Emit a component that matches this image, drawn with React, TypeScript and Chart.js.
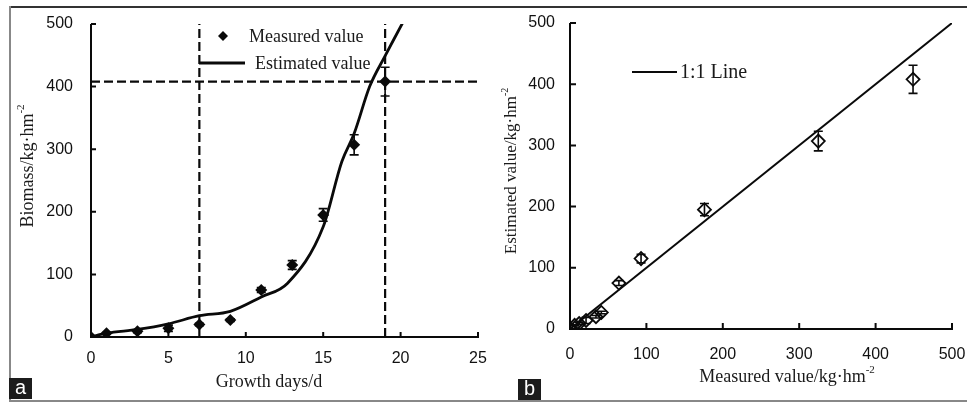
import React, { useEffect, useRef } from "react";
import { Chart, registerables } from "chart.js";

Chart.register(...registerables);

// ---- data ----
const growthDays = [0, 1, 3, 5, 7, 9, 11, 13, 15, 17, 19];
const measuredValues = [0, 6, 9, 14, 20, 27, 75, 115, 195, 307, 408];
const measuredErrors = [0, 1, 2, 5, 2, 2, 4, 7, 10, 16, 23];
const estimatedValues = [0, 6, 12, 21, 34, 41, 64, 93, 176, 325, 449];
const curveDays = [0, 1, 3, 5, 7, 9, 11, 12.7, 15, 16.2, 17, 18, 19, 20.2];
const curveValues = [0, 6, 12, 21, 34, 41, 64, 86, 176, 280, 325, 400, 449, 505];
const refDays = [7, 19];
const refBiomass = 408;
const oneToOneLine = [0, 500];
const dayRange = [0, 25];
const biomassRange = [0, 500];
const dayStep = 5;
const biomassStep = 100;

const SERIF = '"Liberation Serif", "Times New Roman", serif';
const SANS = '"Liberation Sans", Arial, sans-serif';
const INK = "#0a0a0a";

function drawSupText(
  ctx: CanvasRenderingContext2D,
  main: string,
  sup: string,
  x: number,
  y: number,
  size: number,
  rotate: boolean
) {
  ctx.save();
  ctx.translate(x, y);
  if (rotate) ctx.rotate(-Math.PI / 2);
  const mainFont = `${size}px ${SERIF}`;
  const supFont = `${Math.round(size * 0.6)}px ${SERIF}`;
  ctx.font = mainFont;
  const w1 = ctx.measureText(main).width;
  ctx.font = supFont;
  const w2 = ctx.measureText(sup).width;
  const total = w1 + w2;
  ctx.fillStyle = "#1a1a1a";
  ctx.textAlign = "left";
  ctx.textBaseline = "middle";
  ctx.font = mainFont;
  ctx.fillText(main, -total / 2, 0);
  ctx.font = supFont;
  ctx.fillText(sup, -total / 2 + w1, -size * 0.38);
  ctx.restore();
}

function drawAxes(chart: any, tickLen: number) {
  const { ctx } = chart;
  const xs = chart.scales.x;
  const ys = chart.scales.y;
  const x0 = xs.getPixelForValue(xs.min);
  const x1 = xs.getPixelForValue(xs.max);
  const y0 = ys.getPixelForValue(ys.min);
  const y1 = ys.getPixelForValue(ys.max);
  ctx.save();
  ctx.strokeStyle = INK;
  ctx.lineWidth = 2;
  ctx.beginPath();
  ctx.moveTo(x0, y1);
  ctx.lineTo(x0, y0 + 1);
  ctx.moveTo(x0 - 1, y0);
  ctx.lineTo(x1 + 1, y0);
  xs.ticks.forEach((t: any) => {
    if (t.value === xs.min) return;
    const px = xs.getPixelForValue(t.value);
    ctx.moveTo(px, y0);
    ctx.lineTo(px, y0 - tickLen);
  });
  ys.ticks.forEach((t: any) => {
    if (t.value === ys.min) return;
    const py = ys.getPixelForValue(t.value);
    ctx.moveTo(x0, py);
    ctx.lineTo(x0 + tickLen, py);
  });
  ctx.stroke();
  ctx.restore();
}

function drawErrorBars(chart: any, xs: number[], ys: number[], errs: number[]) {
  const { ctx } = chart;
  const sx = chart.scales.x;
  const sy = chart.scales.y;
  ctx.save();
  ctx.strokeStyle = INK;
  ctx.lineWidth = 1.6;
  ctx.beginPath();
  xs.forEach((xv, i) => {
    const e = errs[i];
    if (!e) return;
    const px = sx.getPixelForValue(xv);
    const pt = sy.getPixelForValue(ys[i] + e);
    const pb = sy.getPixelForValue(ys[i] - e);
    ctx.moveTo(px, pt);
    ctx.lineTo(px, pb);
    ctx.moveTo(px - 4.5, pt);
    ctx.lineTo(px + 4.5, pt);
    ctx.moveTo(px - 4.5, pb);
    ctx.lineTo(px + 4.5, pb);
  });
  ctx.stroke();
  ctx.restore();
}

function scaleOpts(range: number[], step: number, pad: number, fit: (s: any) => void) {
  return {
    type: "linear" as const,
    min: range[0],
    max: range[1],
    ticks: {
      stepSize: step,
      padding: pad,
      color: "#111",
      font: { family: SANS, size: 16 },
      maxRotation: 0,
      autoSkip: false,
    },
    grid: { display: false, drawTicks: false },
    border: { display: false },
    afterFit: fit,
  };
}

function fitX(h: number) {
  return (s: any) => {
    s.height = h;
    s.paddingLeft = 0;
    s.paddingRight = 0;
  };
}
function fitY(w: number) {
  return (s: any) => {
    s.width = w;
    s.paddingTop = 0;
    s.paddingBottom = 0;
  };
}

function ChartA() {
  const ref = useRef<HTMLCanvasElement>(null);
  useEffect(() => {
    const dash = [9, 4];
    const chart = new Chart(ref.current!, {
      type: "scatter",
      data: {
        datasets: [
          {
            label: "Measured value",
            data: growthDays.map((d, i) => ({ x: d, y: measuredValues[i] })),
            pointStyle: "rectRot",
            pointRadius: 6,
            backgroundColor: INK,
            borderColor: INK,
            borderWidth: 0,
            showLine: false,
            order: 0,
          },
          {
            label: "Estimated value",
            data: curveDays.map((d, i) => ({ x: d, y: curveValues[i] })),
            showLine: true,
            pointRadius: 0,
            borderColor: INK,
            borderWidth: 2.8,
            cubicInterpolationMode: "monotone",
            order: 1,
          },
          ...refDays.map((d) => ({
            label: "ref",
            data: [
              { x: d, y: biomassRange[0] },
              { x: d, y: biomassRange[1] },
            ],
            showLine: true,
            pointRadius: 0,
            borderColor: INK,
            borderWidth: 2.2,
            borderDash: dash,
            order: 2,
          })),
          {
            label: "ref",
            data: [
              { x: dayRange[0], y: refBiomass },
              { x: dayRange[1], y: refBiomass },
            ],
            showLine: true,
            pointRadius: 0,
            borderColor: INK,
            borderWidth: 2.2,
            borderDash: dash,
            order: 2,
          },
        ],
      } as any,
      options: {
        animation: false,
        responsive: false,
        maintainAspectRatio: false,
        layout: { padding: { left: 0, right: 12, top: 24, bottom: 0 } },
        plugins: { legend: { display: false }, tooltip: { enabled: false } },
        scales: {
          x: scaleOpts(dayRange, dayStep, 12, fitX(66)),
          y: scaleOpts(biomassRange, biomassStep, 18, fitY(91)),
        },
      } as any,
      plugins: [
        {
          id: "decoA",
          beforeDatasetsDraw(c: any) {
            drawAxes(c, 5);
          },
          afterDatasetsDraw(c: any) {
            drawErrorBars(c, growthDays, measuredValues, measuredErrors);
          },
          afterDraw(c: any) {
            const ctx = c.ctx;
            drawSupText(ctx, "Growth days/d", "", 269, 382, 18, false);
            drawSupText(ctx, "Biomass/kg·hm", "-2", 28, 166, 18, true);
            ctx.save();
            ctx.fillStyle = INK;
            ctx.beginPath();
            ctx.moveTo(223, 31);
            ctx.lineTo(228, 36);
            ctx.lineTo(223, 41);
            ctx.lineTo(218, 36);
            ctx.closePath();
            ctx.fill();
            ctx.strokeStyle = INK;
            ctx.lineWidth = 2.8;
            ctx.beginPath();
            ctx.moveTo(199, 63);
            ctx.lineTo(245, 63);
            ctx.stroke();
            ctx.fillStyle = "#1a1a1a";
            ctx.font = `18px ${SERIF}`;
            ctx.textBaseline = "middle";
            ctx.textAlign = "left";
            ctx.fillText("Measured value", 249, 37);
            ctx.fillText("Estimated value", 255, 64);
            ctx.restore();
          },
        },
      ],
    });
    return () => chart.destroy();
  }, []);
  return (
    <canvas
      ref={ref}
      width={490}
      height={403}
      style={{ position: "absolute", left: 0, top: 0, width: 490, height: 403 }}
    />
  );
}

function ChartB() {
  const ref = useRef<HTMLCanvasElement>(null);
  useEffect(() => {
    const chart = new Chart(ref.current!, {
      type: "scatter",
      data: {
        datasets: [
          {
            label: "points",
            data: estimatedValues.map((e, i) => ({ x: e, y: measuredValues[i] })),
            pointStyle: "rectRot",
            pointRadius: 6.5,
            backgroundColor: "rgba(255,255,255,0)",
            borderColor: INK,
            borderWidth: 1.8,
            showLine: false,
            order: 0,
          },
          {
            label: "1:1 Line",
            data: oneToOneLine.map((v) => ({ x: v, y: v })),
            showLine: true,
            pointRadius: 0,
            borderColor: INK,
            borderWidth: 2,
            order: 1,
          },
        ],
      } as any,
      options: {
        animation: false,
        responsive: false,
        maintainAspectRatio: false,
        layout: { padding: { left: 0, right: 15, top: 23, bottom: 0 } },
        plugins: { legend: { display: false }, tooltip: { enabled: false } },
        scales: {
          x: scaleOpts(biomassRange, biomassStep, 16, fitX(74)),
          y: scaleOpts(biomassRange, biomassStep, 15, fitY(80)),
        },
      } as any,
      plugins: [
        {
          id: "decoB",
          beforeDatasetsDraw(c: any) {
            drawAxes(c, 6);
          },
          afterDatasetsDraw(c: any) {
            drawErrorBars(c, estimatedValues, measuredValues, measuredErrors);
          },
          afterDraw(c: any) {
            const ctx = c.ctx;
            drawSupText(ctx, "Measured value/kg·hm", "-2", 297, 377, 18, false);
            drawSupText(ctx, "Estimated value/kg·hm", "-2", 22, 171, 17, true);
            ctx.save();
            ctx.strokeStyle = INK;
            ctx.lineWidth = 2;
            ctx.beginPath();
            ctx.moveTo(142, 72);
            ctx.lineTo(187, 72);
            ctx.stroke();
            ctx.fillStyle = "#1a1a1a";
            ctx.font = `20px ${SERIF}`;
            ctx.textBaseline = "middle";
            ctx.textAlign = "left";
            ctx.fillText("1:1 Line", 190, 73);
            ctx.restore();
          },
        },
      ],
    });
    return () => chart.destroy();
  }, []);
  return (
    <canvas
      ref={ref}
      width={477}
      height={403}
      style={{ position: "absolute", left: 490, top: 0, width: 477, height: 403 }}
    />
  );
}

const tagStyle: React.CSSProperties = {
  position: "absolute",
  width: 23,
  height: 21,
  background: "#1c1c1c",
  color: "#fff",
  font: `20px ${SANS}`,
  lineHeight: "19px",
  textAlign: "center",
};

export default function App() {
  return (
    <div
      style={{
        position: "fixed",
        left: 0,
        top: 0,
        width: 967,
        height: 403,
        background: "#fff",
        overflow: "hidden",
      }}
    >
      <div style={{ position: "absolute", left: 9, top: 6, width: 958, height: 2, background: "#333" }} />
      <div style={{ position: "absolute", left: 9, top: 6, width: 2, height: 396, background: "#888" }} />
      <div style={{ position: "absolute", left: 9, top: 400, width: 958, height: 2, background: "#888" }} />
      <ChartA />
      <ChartB />
      <div style={{ ...tagStyle, left: 9, top: 378 }}>a</div>
      <div style={{ ...tagStyle, left: 518, top: 379 }}>b</div>
    </div>
  );
}
